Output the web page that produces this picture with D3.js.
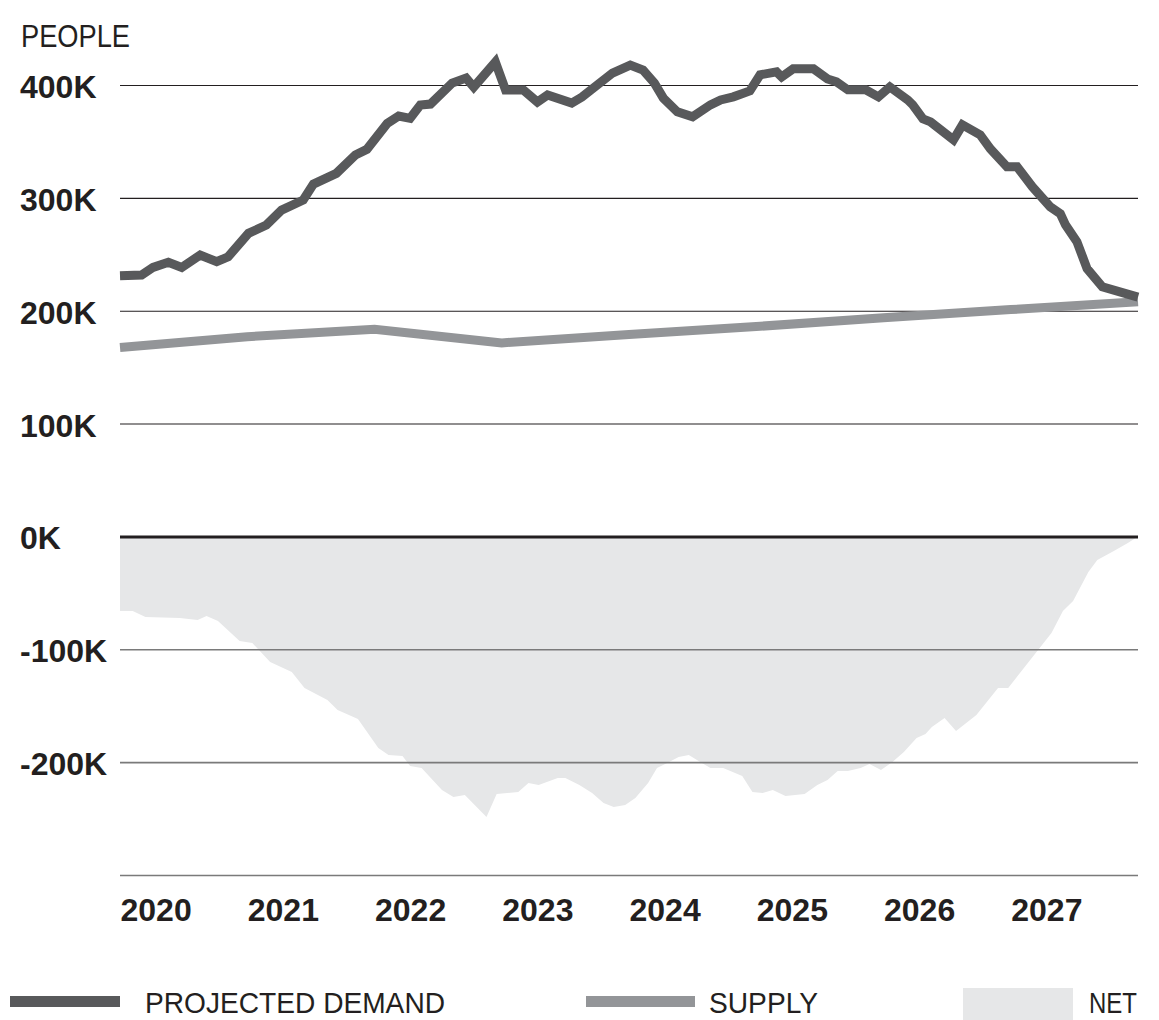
<!DOCTYPE html>
<html>
<head>
<meta charset="utf-8">
<script src="https://cdn.jsdelivr.net/npm/d3@7"></script>
<style>
  html, body { margin: 0; padding: 0; background: #fff; }
  svg { display: block; }
  text { font-family: "Liberation Sans", Arial, sans-serif; fill: #231f20; }
</style>
</head>
<body>
<svg id="chart" width="1159" height="1020"></svg>
<script>
// ---- data (values in thousands of people; x in decimal years) ----
const yTicks = [400, 300, 200, 100, 0, -100, -200, -300];
const yTickLabels = ["400K", "300K", "200K", "100K", "0K", "-100K", "-200K", ""];
const xTicks = [2020, 2021, 2022, 2023, 2024, 2025, 2026, 2027];
const xTickLabels = ["2020", "2021", "2022", "2023", "2024", "2025", "2026", "2027"];

const demandYears = [2020.00, 2020.17, 2020.26, 2020.38, 2020.485, 2020.63, 2020.76, 2020.85, 2021.01, 2021.15,
  2021.27, 2021.44, 2021.52, 2021.70, 2021.85, 2021.94, 2022.10, 2022.19, 2022.28, 2022.36,
  2022.44, 2022.61, 2022.72, 2022.78, 2022.95, 2023.03, 2023.17, 2023.28, 2023.36, 2023.55,
  2023.63, 2023.87, 2024.01, 2024.11, 2024.20, 2024.27, 2024.38, 2024.50, 2024.64, 2024.72,
  2024.82, 2024.95, 2025.03, 2025.16, 2025.20, 2025.29, 2025.45, 2025.56, 2025.63, 2025.72,
  2025.86, 2025.96, 2026.05, 2026.19, 2026.23, 2026.31, 2026.37, 2026.55, 2026.62, 2026.76,
  2026.84, 2026.97, 2027.05, 2027.17, 2027.31, 2027.39, 2027.43, 2027.52, 2027.60, 2027.72, 2028.00];
const demandValues = [231, 231.6, 238.4, 242.9, 238.4, 249.3, 243.4, 247.8, 268.6, 275.9,
  289.2, 298.1, 312.2, 321.7, 337.9, 343, 366, 372.5, 370.5, 382.2,
  383.1, 401.7, 406.2, 398.2, 420.3, 395.5, 395.5, 384.9, 391.1, 384,
  389.3, 410.6, 417.7, 413.2, 401.7, 388.4, 376.2, 371.8, 382.4, 386.8,
  389.5, 394.8, 409, 411.6, 407.2, 414.3, 414.3, 405.4, 402.8, 395.7,
  395.7, 389.5, 398.3, 386.8, 382.4, 370, 367.3, 351.4, 364.7, 355.8,
  343.4, 327.5, 327.5, 309.8, 292.1, 285.9, 276.1, 261.1, 237.2, 221.2, 212];

const supplyYears = [2020, 2021, 2022, 2023, 2024, 2025, 2026, 2027, 2028];
const supplyValues = [167.5, 177, 183.5, 171.5, 179, 186, 193.7, 201, 208];

const netYears = [2020.00, 2020.10, 2020.20, 2020.47, 2020.61, 2020.68, 2020.77, 2020.94, 2021.04, 2021.18,
  2021.35, 2021.45, 2021.63, 2021.71, 2021.87, 2022.03, 2022.11, 2022.22, 2022.28, 2022.37,
  2022.53, 2022.62, 2022.71, 2022.88, 2022.96, 2023.13, 2023.21, 2023.29, 2023.44, 2023.50,
  2023.61, 2023.71, 2023.80, 2023.88, 2023.97, 2024.05, 2024.15, 2024.22, 2024.30, 2024.39,
  2024.47, 2024.56, 2024.64, 2024.74, 2024.89, 2024.97, 2025.05, 2025.13, 2025.23, 2025.38,
  2025.48, 2025.56, 2025.64, 2025.72, 2025.82, 2025.89, 2025.98, 2026.07, 2026.16, 2026.26,
  2026.33, 2026.38, 2026.48, 2026.57, 2026.73, 2026.90, 2026.98, 2027.32, 2027.41, 2027.49,
  2027.61, 2027.68, 2027.81, 2027.92, 2028.00];
const netValues = [-66.1, -66.1, -71.4, -72.3, -74.1, -70.5, -75, -92.7, -94.5, -111.3,
  -120.2, -134.3, -144.9, -153.8, -161.8, -187.5, -193.7, -194.6, -203.4, -205.2,
  -224.7, -230.9, -229.1, -248.6, -228.2, -226.5, -218.5, -220.3, -214.1, -214.1,
  -220.3, -227.4, -236.2, -239.8, -238, -231.8, -218.5, -205.2, -200.8, -195.5,
  -193.7, -199.9, -205.2, -205.2, -212.3, -226.5, -227.4, -224.7, -230, -228.2,
  -220.3, -215.9, -207.9, -207.9, -205.2, -201.7, -207, -199.9, -191, -178.6,
  -175.1, -168.9, -160.9, -172.4, -158.2, -134.3, -134.3, -85.6, -66.1, -57.2,
  -31.5, -20.9, -12.9, -5.8, 0];

const legendLabels = ["PROJECTED DEMAND", "SUPPLY", "NET"];

// ---- chart ----
const svg = d3.select("#chart");
const x = d3.scaleLinear().domain([2020, 2028]).range([120, 1138]);
const y = d3.scaleLinear().domain([-300, 400]).range([875, 85]);

const demand = demandYears.map((t, i) => ({ t, v: demandValues[i] }));
const supply = supplyYears.map((t, i) => ({ t, v: supplyValues[i] }));
const net = netYears.map((t, i) => ({ t, v: netValues[i] }));

// net area
svg.append("path")
  .datum(net)
  .attr("fill", "#e6e7e8")
  .attr("d", d3.area().x(d => x(d.t)).y0(y(0)).y1(d => y(d.v)));

// gridlines via axis
const yAxis = d3.axisLeft(y).tickValues(yTicks).tickSize(-(1138 - 120)).tickFormat("");
const gy = svg.append("g").attr("transform", "translate(120,0)").call(yAxis);
gy.select(".domain").remove();
gy.selectAll(".tick line")
  .attr("stroke", d => d === 0 ? "#231f20" : (d > 0 ? "#231f20" : "#7a7a7a"))
  .attr("stroke-width", d => d === 0 ? 3 : (d > 0 ? 1.1 : 1.6));

// y labels
svg.append("g").selectAll("text")
  .data(yTicks)
  .join("text")
  .attr("x", 20)
  .attr("y", d => y(d) + 13)
  .attr("font-size", 32)
  .attr("font-weight", "bold")
  .text((d, i) => yTickLabels[i]);

svg.append("text")
  .attr("x", 21).attr("y", 47)
  .attr("font-size", 31)
  .attr("textLength", 109).attr("lengthAdjust", "spacingAndGlyphs")
  .text("PEOPLE");

// x labels
const xAxis = d3.axisBottom(x).tickValues(xTicks).tickSize(0).tickFormat((d, i) => xTickLabels[i]);
const gx = svg.append("g").attr("transform", "translate(0,875)").call(xAxis);
gx.select(".domain").remove();
gx.selectAll(".tick text")
  .attr("text-anchor", "start")
  .attr("y", 46).attr("dy", 0)
  .attr("font-size", 32)
  .attr("font-weight", "bold")
  .attr("font-family", "'Liberation Sans', Arial, sans-serif")
  .attr("fill", "#231f20");

// lines
const line = d3.line().x(d => x(d.t)).y(d => y(d.v));
svg.append("path").datum(supply)
  .attr("fill", "none").attr("stroke", "#939598").attr("stroke-width", 9)
  .attr("d", line);
svg.append("path").datum(demand)
  .attr("fill", "none").attr("stroke", "#58595b").attr("stroke-width", 9)
  .attr("stroke-linejoin", "miter").attr("stroke-miterlimit", 2)
  .attr("d", line);

// legend
const lg = svg.append("g");
lg.append("rect").attr("x", 10).attr("y", 996).attr("width", 110).attr("height", 11).attr("fill", "#58595b");
lg.append("text").attr("x", 145).attr("y", 1013).attr("font-size", 29)
  .attr("textLength", 300).attr("lengthAdjust", "spacingAndGlyphs").text(legendLabels[0]);
lg.append("rect").attr("x", 586).attr("y", 996).attr("width", 109).attr("height", 11).attr("fill", "#939598");
lg.append("text").attr("x", 709).attr("y", 1013).attr("font-size", 29)
  .attr("textLength", 109).attr("lengthAdjust", "spacingAndGlyphs").text(legendLabels[1]);
lg.append("rect").attr("x", 963).attr("y", 988).attr("width", 110).attr("height", 32).attr("fill", "#e6e7e8");
lg.append("text").attr("x", 1089).attr("y", 1013).attr("font-size", 29)
  .attr("textLength", 48).attr("lengthAdjust", "spacingAndGlyphs").text(legendLabels[2]);
</script>
</body>
</html>
